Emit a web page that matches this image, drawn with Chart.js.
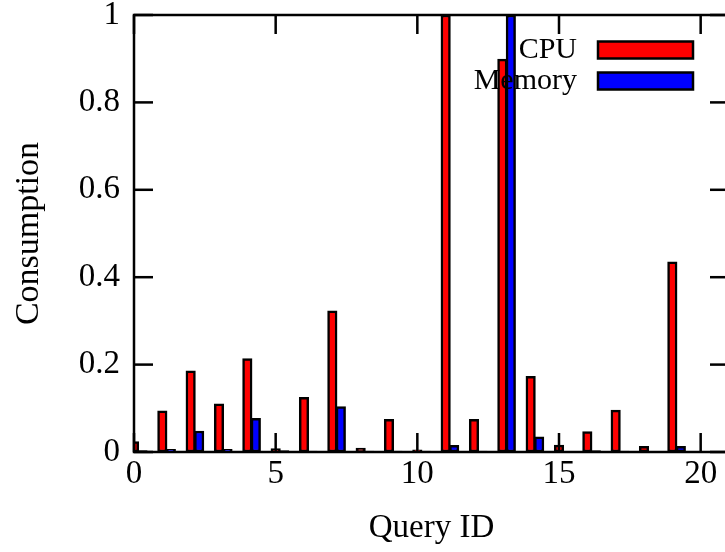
<!DOCTYPE html>
<html lang="en">
<head>
<meta charset="UTF-8">
<title>Query Consumption</title>
<script src="https://cdn.jsdelivr.net/npm/chart.js"></script>
<style>
    body {
        margin: 0;
        padding: 0;
        background: #fff;
        overflow: hidden;
    }
    #wrap {
        width: 725px;
        height: 552px;
        overflow: hidden;
    }
    canvas {
        display: block;
    }
</style>
</head>
<body>
<div id="wrap"><canvas id="usageChart" width="760" height="552"></canvas></div>
<script>
    const queryIds = [0, 1, 2, 3, 4, 5, 6, 7, 8, 9, 10, 11, 12, 13, 14, 15, 16, 17, 18, 19];
    const cpuUsage = [0.024, 0.094, 0.186, 0.110, 0.214, 0.008, 0.125, 0.323, 0.009, 0.075,
                      0.005, 1.0, 0.075, 0.899, 0.173, 0.016, 0.047, 0.096, 0.013, 0.435];
    const memoryUsage = [0.003, 0.006, 0.048, 0.006, 0.077, 0.003, 0.002, 0.104, 0.002, 0.002,
                         0.002, 0.015, 0.002, 1.0, 0.035, 0.001, 0.003, 0.002, 0.001, 0.013];
    const xTicks = [0, 5, 10, 15, 20];
    const yTicks = [0, 0.2, 0.4, 0.6, 0.8, 1];

    const memShift = 0.3; // memory bar sits next to the cpu bar
    const fontFamily = "'Liberation Serif', 'DejaVu Serif', serif";

    // gnuplot style frame with ticks pointing inwards
    const framePlugin = {
        id: 'frame',
        afterDraw(chart) {
            const ctx = chart.ctx;
            const area = chart.chartArea;
            const xs = chart.scales.x, ys = chart.scales.y;
            const tick = 19, lw = 2.5;
            ctx.save();
            ctx.fillStyle = '#000';
            xTicks.forEach(v => {
                const px = xs.getPixelForValue(v);
                ctx.fillRect(px - lw / 2, area.bottom - tick, lw, tick);
                ctx.fillRect(px - lw / 2, area.top, lw, tick);
            });
            yTicks.forEach(v => {
                const py = ys.getPixelForValue(v);
                ctx.fillRect(area.left, py - lw / 2, tick, lw);
                ctx.fillRect(area.right - tick, py - lw / 2, tick, lw);
            });
            ctx.strokeStyle = '#000';
            ctx.lineWidth = lw;
            ctx.strokeRect(area.left, area.top, area.right - area.left, area.bottom - area.top);

            // key, text on the left and sample box on the right
            const textRight = area.right - 152;
            const boxLeft = area.right - 131;
            const boxW = 95, boxH = 17;
            ctx.font = '30px ' + fontFamily;
            ctx.textAlign = 'right';
            ctx.textBaseline = 'middle';
            chart.data.datasets.forEach((ds, i) => {
                const cy = area.top + 35 + i * 31;
                ctx.fillStyle = '#000';
                ctx.fillText(ds.label, textRight, cy);
                ctx.fillStyle = ds.backgroundColor;
                ctx.fillRect(boxLeft, cy - boxH / 2, boxW, boxH);
                ctx.strokeRect(boxLeft, cy - boxH / 2, boxW, boxH);
            });
            ctx.restore();
        }
    };

    const ctx = document.getElementById('usageChart').getContext('2d');
    const usageChart = new Chart(ctx, {
        type: 'bar',
        data: {
            datasets: [{
                label: 'CPU',
                data: queryIds.map((q, i) => ({ x: q, y: cpuUsage[i] })),
                backgroundColor: '#ff0000'
            }, {
                label: 'Memory',
                data: queryIds.map((q, i) => ({ x: q + memShift, y: memoryUsage[i] })),
                backgroundColor: '#0000ff'
            }]
        },
        options: {
            responsive: false,
            animation: false,
            devicePixelRatio: 1,
            layout: { padding: { top: 15, right: 31, left: 0, bottom: 0 } },
            datasets: {
                bar: {
                    grouped: false,
                    barThickness: 9.5,
                    borderWidth: 2.5,
                    borderColor: '#000',
                    borderSkipped: false
                }
            },
            plugins: {
                legend: { display: false },
                tooltip: { enabled: false }
            },
            scales: {
                x: {
                    type: 'linear',
                    min: 0,
                    max: 21,
                    offset: false,
                    grid: { display: false },
                    border: { display: false },
                    afterBuildTicks: s => { s.ticks = xTicks.map(v => ({ value: v })); },
                    afterFit: s => { s.height = 100; s.paddingLeft = 0; s.paddingRight = 0; },
                    ticks: {
                        color: '#000',
                        padding: -5,
                        maxRotation: 0,
                        autoSkip: false,
                        font: { family: fontFamily, size: 33 }
                    },
                    title: {
                        display: true,
                        text: 'Query ID',
                        color: '#000',
                        padding: { top: 0, bottom: 4 },
                        font: { family: fontFamily, size: 33 }
                    }
                },
                y: {
                    min: 0,
                    max: 1,
                    grid: { display: false },
                    border: { display: false },
                    afterBuildTicks: s => { s.ticks = yTicks.map(v => ({ value: v })); },
                    afterFit: s => { s.width = 134; s.paddingTop = 0; s.paddingBottom = 0; },
                    ticks: {
                        color: '#000',
                        padding: 6,
                        callback: v => String(v),
                        font: { family: fontFamily, size: 33 }
                    },
                    title: {
                        display: true,
                        text: 'Consumption',
                        color: '#000',
                        padding: { top: 9, bottom: 0 },
                        font: { family: fontFamily, size: 34 }
                    }
                }
            }
        },
        plugins: [framePlugin]
    });
</script>
</body>
</html>
